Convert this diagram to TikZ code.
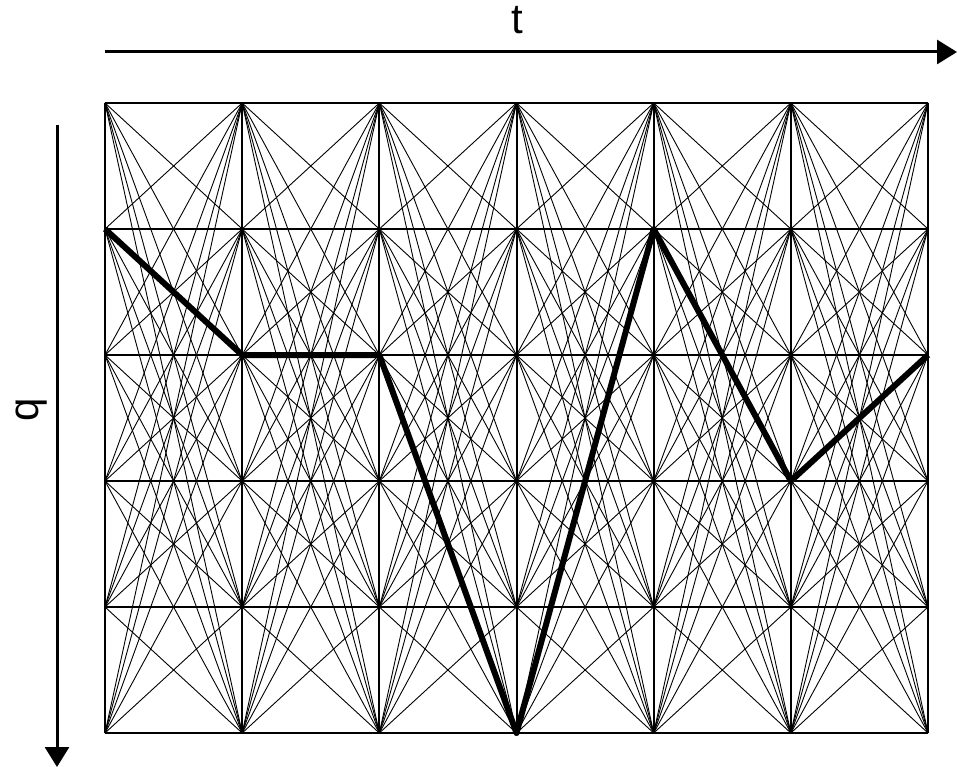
\documentclass[tikz,border=0pt]{standalone}
\usepackage{fontspec}
\setmainfont{Liberation Sans}
\usetikzlibrary{arrows.meta}
\tikzset{
  link/.style={line width=.9pt},
  gridline/.style={line width=2pt},
  best/.style={line width=6pt,line join=round},
  axis/.style={line width=3pt,-{Triangle[length=20pt,width=24pt]}},
  axlabel/.style={font=\fontsize{42}{42}\selectfont}
}

\begin{document}
\begin{tikzpicture}[x=1pt,y=-1pt]
\useasboundingbox (0,0) rectangle (957,767);
% trellis points, column i = time, row j = state
\foreach \i in {0,...,6}
  \foreach \j in {0,...,5}
    \coordinate (p\i\j) at ({105+137.17*\i},{103+126*\j});
% all transitions between neighbouring columns
\foreach \i [evaluate=\i as \k using int(\i+1)] in {0,...,5}
  \foreach \j in {0,...,5}
    \foreach \m in {0,...,5}
      \draw[link] (p\i\j) -- (p\k\m);
\foreach \j in {0,...,5} \draw[gridline] (p0\j) -- (p6\j);
\foreach \i in {0,...,6} \draw[gridline] (p\i0) -- (p\i5);
% chosen path
\draw[best] (p01) -- (p12) -- (p22) -- (p35) -- (p41) -- (p53) -- (p62);
% axes
\coordinate (t0) at (105,52);
\coordinate (t1) at (957,52);
\coordinate (q0) at (57,125);
\coordinate (q1) at (57,767);
\draw[axis] (t0) -- (t1);
\draw[axis] (q0) -- (q1);
\node[axlabel] (tlab) at (517,20) {t};
\node[axlabel,rotate=90] (qlab) at (32,410) {q};
\end{tikzpicture}
\end{document}
